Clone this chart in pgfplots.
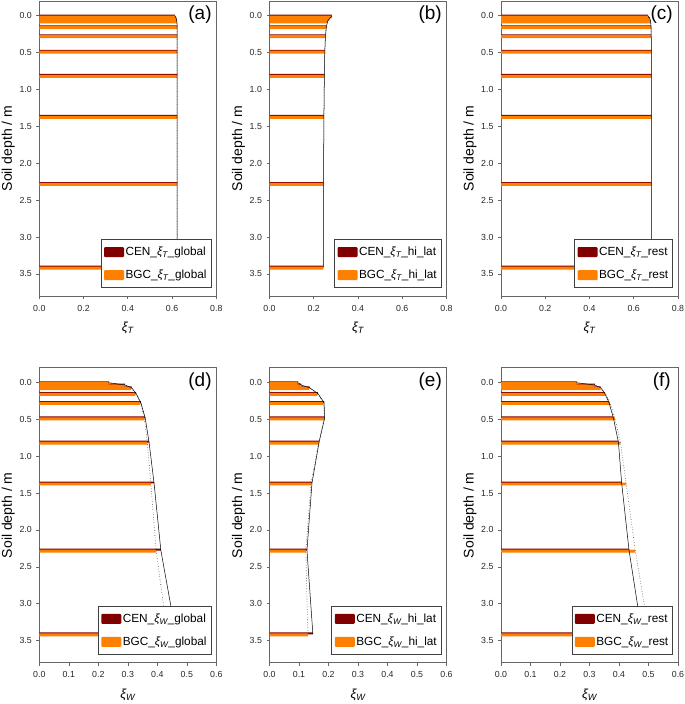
\documentclass[border=0pt]{standalone}
\usepackage{fontspec}
\setmainfont{Liberation Sans}
\usepackage{pgfplots}
\pgfplotsset{compat=1.18}
\definecolor{cenred}{RGB}{128,0,0}
\definecolor{bgcor}{RGB}{255,128,0}
\newcommand{\xiT}{{\itshape ξ}\textsubscript{\itshape T}}
\newcommand{\xiW}{{\itshape ξ}\textsubscript{\itshape W}}
\tikzset{plab/.style={font=\fontsize{19}{22}\selectfont, anchor=center}}
\pgfplotsset{
  panel/.style={
    scale only axis, width=177pt, height=295pt, anchor=south west,
    xmin=0, ymin=-0.2, ymax=3.8, y dir=reverse,
    ytick={0,0.5,1,1.5,2,2.5,3,3.5},
    axis line style={black!60, line width=0.6pt},
    tick style={black!60, line width=0.6pt},
    tick align=outside, major tick length=3pt,
    xtick pos=left, ytick pos=left,
    tick label style={font=\fontsize{8.8}{10}\selectfont, text=black!85},
    xticklabel style={yshift=-2.5pt},
    yticklabel style={xshift=-1pt},
    /pgf/number format/fixed, /pgf/number format/fixed zerofill,
    /pgf/number format/precision=1, /pgf/number format/assume math mode=true,
    ylabel={Soil depth / m},
    ylabel style={at={(axis description cs:-0.175,0.5)}, anchor=center, font=\fontsize{14}{16}\selectfont},
    xlabel style={at={(axis description cs:0.5,-0.108)}, anchor=center, font=\fontsize{13}{15}\selectfont},
    legend style={at={(0.972,0.027)}, anchor=south east, draw=black!75, line width=0.6pt,
      fill=white, font=\fontsize{11.8}{13}\selectfont, inner xsep=3pt, inner ysep=5.5pt,
      row sep=9pt, nodes={inner xsep=1.5pt, inner ysep=2pt}, cells={anchor=west}},
    legend cell align=left,
  },
  cenbar/.style={xbar, bar width=0.025, bar shift=0pt, fill=cenred, draw=none,
    legend image code/.code={\fill[cenred, rounded corners=1pt] (0pt,-5pt) rectangle (20pt,5pt);}},
  bgcbar/.style={xbar, bar width=0.04, bar shift=0pt, fill=bgcor, draw=none,
    legend image code/.code={\fill[bgcor, rounded corners=1pt] (0pt,-5pt) rectangle (20pt,5pt);}},
  cenline/.style={black, line width=0.5pt, mark=none, forget plot},
  bgcline/.style={black!75, dotted, line width=0.6pt, mark=none, forget plot},
}
\begin{document}
\begin{tikzpicture}
\path[use as bounding box] (0,0) rectangle (685pt,704pt);
% ---------------- (a)
\begin{axis}[panel, at={(39.3pt,408pt)}, xmax=0.8, xtick={0,0.2,0.4,0.6,0.8}, xlabel={\xiT}]
\addplot[cenbar] coordinates {(0.614,-0.003) (0.619,0.027) (0.622,0.064) (0.623,0.142) (0.623,0.264) (0.623,0.474) (0.623,0.802) (0.623,1.357) (0.623,2.267) (0.623,3.402)};
\addlegendentry{CEN\_\xiT\_global}
\addplot[bgcbar] coordinates {(0.614,0.017) (0.619,0.047) (0.622,0.084) (0.623,0.162) (0.623,0.284) (0.623,0.494) (0.623,0.822) (0.623,1.377) (0.623,2.287) (0.623,3.422)};
\addlegendentry{BGC\_\xiT\_global}
\addplot[cenline] coordinates {(0.614,0.005) (0.619,0.035) (0.622,0.072) (0.623,0.15) (0.623,0.272) (0.623,0.482) (0.623,0.81) (0.623,1.365) (0.623,2.275) (0.623,3.41)};
\addplot[bgcline] coordinates {(0.614,0.005) (0.619,0.035) (0.622,0.072) (0.623,0.15) (0.623,0.272) (0.623,0.482) (0.623,0.81) (0.623,1.365) (0.623,2.275) (0.623,3.41)};
\node[plab] at (axis description cs:0.908,0.953) {(a)};
\end{axis}
% ---------------- (b)
\begin{axis}[panel, at={(269.5pt,408pt)}, xmax=0.8, xtick={0,0.2,0.4,0.6,0.8}, xlabel={\xiT}]
\addplot[cenbar] coordinates {(0.282,-0.003) (0.272,0.027) (0.263,0.064) (0.257,0.142) (0.253,0.264) (0.250,0.474) (0.248,0.802) (0.246,1.357) (0.244,2.267) (0.243,3.402)};
\addlegendentry{CEN\_\xiT\_hi\_lat}
\addplot[bgcbar] coordinates {(0.282,0.017) (0.272,0.047) (0.263,0.084) (0.257,0.162) (0.253,0.284) (0.250,0.494) (0.248,0.822) (0.246,1.377) (0.244,2.287) (0.243,3.422)};
\addlegendentry{BGC\_\xiT\_hi\_lat}
\addplot[cenline] coordinates {(0.282,0.005) (0.272,0.035) (0.263,0.072) (0.257,0.15) (0.253,0.272) (0.250,0.482) (0.248,0.81) (0.246,1.365) (0.244,2.275) (0.243,3.41)};
\addplot[bgcline] coordinates {(0.282,0.005) (0.272,0.035) (0.263,0.072) (0.257,0.15) (0.253,0.272) (0.250,0.482) (0.248,0.81) (0.246,1.365) (0.244,2.275) (0.243,3.41)};
\node[plab] at (axis description cs:0.908,0.953) {(b)};
\end{axis}
% ---------------- (c)
\begin{axis}[panel, at={(501pt,408pt)}, xmax=0.8, xtick={0,0.2,0.4,0.6,0.8}, xlabel={\xiT}]
\addplot[cenbar] coordinates {(0.665,-0.003) (0.672,0.027) (0.676,0.064) (0.678,0.142) (0.679,0.264) (0.680,0.474) (0.680,0.802) (0.680,1.357) (0.680,2.267) (0.680,3.402)};
\addlegendentry{CEN\_\xiT\_rest}
\addplot[bgcbar] coordinates {(0.665,0.017) (0.672,0.047) (0.676,0.084) (0.678,0.162) (0.679,0.284) (0.680,0.494) (0.680,0.822) (0.680,1.377) (0.680,2.287) (0.680,3.422)};
\addlegendentry{BGC\_\xiT\_rest}
\addplot[cenline] coordinates {(0.665,0.005) (0.672,0.035) (0.676,0.072) (0.678,0.15) (0.679,0.272) (0.680,0.482) (0.680,0.81) (0.680,1.365) (0.680,2.275) (0.680,3.41)};
\addplot[bgcline] coordinates {(0.665,0.005) (0.672,0.035) (0.676,0.072) (0.678,0.15) (0.679,0.272) (0.680,0.482) (0.680,0.81) (0.680,1.365) (0.680,2.275) (0.680,3.41)};
\node[plab] at (axis description cs:0.908,0.953) {(c)};
\end{axis}
% ---------------- (d)
\begin{axis}[panel, at={(39.3pt,41.3pt)}, xmax=0.6, xtick={0,0.1,0.2,0.3,0.4,0.5,0.6}, xlabel={\xiW}]
\addplot[cenbar] coordinates {(0.237,-0.003) (0.291,0.027) (0.313,0.064) (0.328,0.142) (0.344,0.264) (0.359,0.474) (0.372,0.802) (0.389,1.357) (0.412,2.267) (0.463,3.402)};
\addlegendentry{CEN\_\xiW\_global}
\addplot[bgcbar] coordinates {(0.235,0.017) (0.288,0.047) (0.311,0.084) (0.326,0.162) (0.342,0.284) (0.356,0.494) (0.366,0.822) (0.378,1.377) (0.396,2.287) (0.434,3.422)};
\addlegendentry{BGC\_\xiW\_global}
\addplot[cenline] coordinates {(0.237,0.005) (0.291,0.035) (0.313,0.072) (0.328,0.15) (0.344,0.272) (0.359,0.482) (0.372,0.81) (0.389,1.365) (0.412,2.275) (0.463,3.41)};
\addplot[bgcline] coordinates {(0.235,0.005) (0.288,0.035) (0.311,0.072) (0.326,0.15) (0.342,0.272) (0.356,0.482) (0.366,0.81) (0.378,1.365) (0.396,2.275) (0.434,3.41)};
\node[plab] at (axis description cs:0.908,0.953) {(d)};
\end{axis}
% ---------------- (e)
\begin{axis}[panel, at={(269.5pt,41.3pt)}, xmax=0.6, xtick={0,0.1,0.2,0.3,0.4,0.5,0.6}, xlabel={\xiW}]
\addplot[cenbar] coordinates {(0.097,-0.003) (0.108,0.027) (0.136,0.064) (0.164,0.142) (0.185,0.264) (0.187,0.474) (0.168,0.802) (0.144,1.357) (0.127,2.267) (0.147,3.402)};
\addlegendentry{CEN\_\xiW\_hi\_lat}
\addplot[bgcbar] coordinates {(0.095,0.017) (0.106,0.047) (0.134,0.084) (0.162,0.162) (0.183,0.284) (0.186,0.494) (0.167,0.822) (0.141,1.377) (0.123,2.287) (0.130,3.422)};
\addlegendentry{BGC\_\xiW\_hi\_lat}
\addplot[cenline] coordinates {(0.097,0.005) (0.108,0.035) (0.136,0.072) (0.164,0.15) (0.185,0.272) (0.187,0.482) (0.168,0.81) (0.144,1.365) (0.127,2.275) (0.147,3.41)};
\addplot[bgcline] coordinates {(0.095,0.005) (0.106,0.035) (0.134,0.072) (0.162,0.15) (0.183,0.272) (0.186,0.482) (0.167,0.81) (0.141,1.365) (0.123,2.275) (0.130,3.41)};
\node[plab] at (axis description cs:0.908,0.953) {(e)};
\end{axis}
% ---------------- (f)
\begin{axis}[panel, at={(501pt,41.3pt)}, xmax=0.6, xtick={0,0.1,0.2,0.3,0.4,0.5,0.6}, xlabel={\xiW}]
\addplot[cenbar] coordinates {(0.258,-0.003) (0.318,0.027) (0.338,0.064) (0.352,0.142) (0.366,0.264) (0.381,0.474) (0.398,0.802) (0.409,1.357) (0.434,2.267) (0.478,3.402)};
\addlegendentry{CEN\_\xiW\_rest}
\addplot[bgcbar] coordinates {(0.256,0.017) (0.316,0.047) (0.338,0.084) (0.354,0.162) (0.369,0.284) (0.386,0.494) (0.405,0.822) (0.424,1.377) (0.455,2.287) (0.502,3.422)};
\addlegendentry{BGC\_\xiW\_rest}
\addplot[cenline] coordinates {(0.258,0.005) (0.318,0.035) (0.338,0.072) (0.352,0.15) (0.366,0.272) (0.381,0.482) (0.398,0.81) (0.409,1.365) (0.434,2.275) (0.478,3.41)};
\addplot[bgcline] coordinates {(0.256,0.005) (0.316,0.035) (0.338,0.072) (0.354,0.15) (0.369,0.272) (0.386,0.482) (0.405,0.81) (0.424,1.365) (0.455,2.275) (0.502,3.41)};
\node[plab] at (axis description cs:0.908,0.953) {(f)};
\end{axis}
\end{tikzpicture}
\end{document}
